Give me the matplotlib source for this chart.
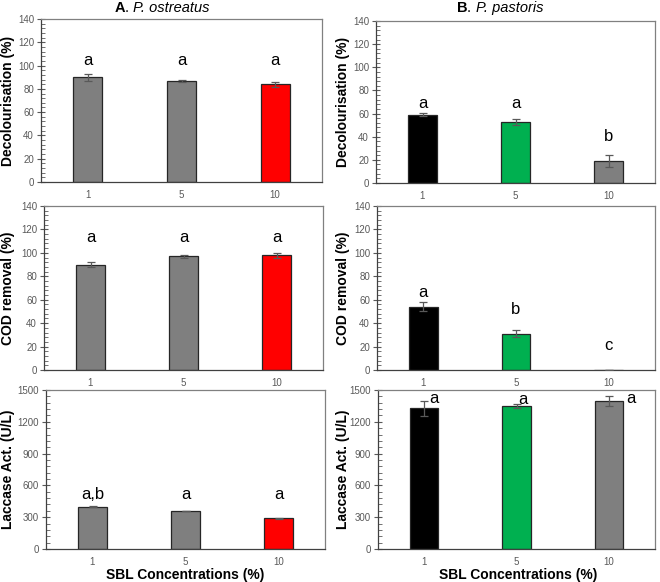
import matplotlib
matplotlib.use("Agg")
import matplotlib.pyplot as plt
from matplotlib.ticker import MultipleLocator

plt.rcParams['font.family'] = ['Liberation Sans', 'DejaVu Sans']

categories = ["1", "5", "10"]

# Panel A: P. ostreatus
a_decol = [90, 87, 84]
a_decol_err = [3, 1, 2]
a_cod = [90, 97, 98]
a_cod_err = [2, 1.5, 2]
a_lac = [399, 358, 289]
a_lac_err = [4, 4, 5]
a_colors = ["#7f7f7f", "#7f7f7f", "#ff0000"]

# Panel B: P. pastoris
b_decol = [59, 53, 19]
b_decol_err = [1.5, 2.5, 5]
b_cod = [54, 31, 0]
b_cod_err = [4, 3, 0]
b_lac = [1327, 1349, 1396]
b_lac_err = [68, 15, 45]
b_colors = ["#000000", "#00b050", "#7f7f7f"]

# significance letters
a_decol_letters = ["a", "a", "a"]
a_cod_letters = ["a", "a", "a"]
a_lac_letters = ["a,b", "a", "a"]
b_decol_letters = ["a", "a", "b"]
b_cod_letters = ["a", "b", "c"]
b_lac_letters = ["a", "a", "a"]

W, H = 660, 582
fig = plt.figure(figsize=(W / 100, H / 100), dpi=100)

def add_ax(x0, x1, y0, y1):
    return fig.add_axes([x0 / W, 1 - y1 / H, (x1 - x0) / W, (y1 - y0) / H])

grey = "#595959"

def style(ax, ymax, major, minor, ylabel, label_x):
    ax.set_xlim(-0.5, 2.5)
    ax.set_ylim(0, ymax)
    ax.yaxis.set_major_locator(MultipleLocator(major))
    ax.yaxis.set_minor_locator(MultipleLocator(minor))
    ax.tick_params(axis='y', which='major', direction='inout', length=6, width=0.8,
                   color=grey, labelsize=7, labelcolor=grey, pad=2)
    ax.tick_params(axis='y', which='minor', direction='in', length=3, width=0.6, color=grey)
    ax.tick_params(axis='x', length=0, labelsize=7, labelcolor=grey, pad=6)
    ax.set_xticks(range(len(categories)))
    ax.set_xticklabels(categories)
    for s in ax.spines.values():
        s.set_color("#808080")
        s.set_linewidth(0.9)
    ax.spines['left'].set_color("#404040")
    ax.spines['bottom'].set_color("#404040")
    bb = ax.get_position()
    fig.text(label_x / W, bb.y0 + bb.height / 2, ylabel, rotation=90, ha='center',
             va='center', fontsize=10, fontweight='bold')

def bars(ax, vals, errs, colors):
    x = range(len(vals))
    ax.bar(x, vals, width=0.31, color=colors, edgecolor="#262626", linewidth=0.9, zorder=2)
    ax.errorbar(x, vals, yerr=errs, fmt='none', ecolor=grey, elinewidth=0.9,
                capsize=3, capthick=0.9, zorder=3)

def letters(ax, labels, ys, xs=None):
    if xs is None:
        xs = range(len(labels))
    for xi, lab, yi in zip(xs, labels, ys):
        ax.text(xi, yi, lab, ha='center', va='center', fontsize=12, color='black')

# Left column
ax1 = add_ax(41, 322, 19, 182)
bars(ax1, a_decol, a_decol_err, a_colors)
style(ax1, 140, 20, 4, "Decolourisation (%)", 8)
letters(ax1, a_decol_letters, [104, 104, 104])

ax2 = add_ax(44, 323, 206, 370)
bars(ax2, a_cod, a_cod_err, a_colors)
style(ax2, 140, 20, 4, "COD removal (%)", 8)
letters(ax2, a_cod_letters, [113, 113, 113])

ax3 = add_ax(46, 325, 390, 549)
bars(ax3, a_lac, a_lac_err, a_colors)
style(ax3, 1500, 300, 60, "Laccase Act. (U/L)", 8)
letters(ax3, a_lac_letters, [515, 515, 515])

# Right column
ax4 = add_ax(376, 655, 21, 183)
bars(ax4, b_decol, b_decol_err, b_colors)
style(ax4, 140, 20, 4, "Decolourisation (%)", 343)
letters(ax4, b_decol_letters, [69, 69, 40])

ax5 = add_ax(377, 655, 206, 370)
bars(ax5, b_cod, b_cod_err, b_colors)
style(ax5, 140, 20, 4, "COD removal (%)", 343)
letters(ax5, b_cod_letters, [66, 52, 21])

ax6 = add_ax(378, 655, 390, 549)
bars(ax6, b_lac, b_lac_err, b_colors)
style(ax6, 1500, 300, 60, "Laccase Act. (U/L)", 343)
letters(ax6, b_lac_letters, [1420, 1415, 1420], xs=[0.11, 1.07, 2.24])

# titles built from styled pieces
renderer = fig.canvas.get_renderer()

def mixed_title(cx_px, cy_px, pieces, size=10.5):
    texts = []
    total = 0
    for s, kw in pieces:
        t = fig.text(0, 1 - cy_px / H, s, ha='left', va='center', fontsize=size, **kw)
        w = t.get_window_extent(renderer).width
        texts.append((t, w))
        total += w
    x = cx_px - total / 2
    for t, w in texts:
        t.set_x(x / W)
        x += w

mixed_title(162, 8, [("A", dict(fontweight='bold')), (". ", {}),
                      ("P. ostreatus", dict(style='italic'))])
mixed_title(500, 8, [("B", dict(fontweight='bold')), (". ", {}),
                      ("P. pastoris", dict(style='italic'))])

# x labels
fig.text(185 / W, 1 - 575 / H, "SBL Concentrations (%)", ha='center', va='center',
         fontsize=10, fontweight='bold')
fig.text(518 / W, 1 - 575 / H, "SBL Concentrations (%)", ha='center', va='center',
         fontsize=10, fontweight='bold')

fig.savefig("out.png", dpi=100, facecolor='white')
